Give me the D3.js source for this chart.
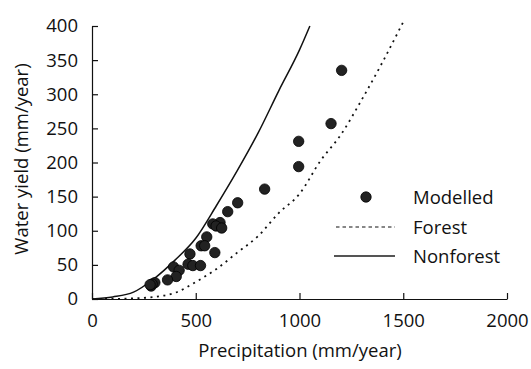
<!DOCTYPE html>
<html>
<head>
<meta charset="utf-8">
<script src="https://cdn.jsdelivr.net/npm/d3@7"></script>
<style>
  body { margin: 0; background: #fff; }
  svg text { font-family: "Open Sans", sans-serif; fill: #111; }
</style>
</head>
<body>
<div id="chart"></div>
<script>

// modelled points: precipitation, water yield
var modelledP = [1203, 1152, 996, 996, 832, 702, 654, 617, 582, 598, 625, 553, 526, 543, 592, 472, 463, 486, 523, 393, 420, 406, 364, 303, 285, 290, 280];
var modelledQ = [335, 257, 231, 194, 161, 141, 128, 112, 110, 107, 104, 91, 78, 78, 68, 66, 51, 49, 49, 47, 42, 33, 28, 24, 19, 22, 21];

// curves
var forestP = [0, 100, 200, 300, 400, 500, 600, 700, 800, 900, 1000, 1100, 1200, 1300, 1400, 1500];
var forestQ = [0, 0, 1, 3, 9, 25, 44, 68, 92, 126, 154, 202, 241, 292, 347, 406];

var nonforestP = [0, 100, 200, 300, 400, 500, 600, 700, 800, 900, 1000, 1050];
var nonforestQ = [0, 3, 10, 30, 57, 89, 137, 188, 243, 305, 365, 400];

var xTicks = [0, 500, 1000, 1500, 2000];
var yTicks = [0, 50, 100, 150, 200, 250, 300, 350, 400];

var legendLabels = ["Modelled", "Forest", "Nonforest"];

var width = 531, height = 369;
var fontSize = 18.5;

var svg = d3.select("#chart").append("svg")
    .attr("width", width)
    .attr("height", height);

var x = d3.scaleLinear().domain([0, 2000]).range([92, 507]);
var y = d3.scaleLinear().domain([0, 400]).range([299, 26]);

// axes
var xAxis = svg.append("g")
    .attr("transform", "translate(0," + y(0) + ")")
    .call(d3.axisBottom(x).tickValues(xTicks).tickFormat(d3.format("d"))
        .tickSizeInner(-6).tickSizeOuter(0).tickPadding(15));

var yAxis = svg.append("g")
    .attr("transform", "translate(" + x(0) + ",0)")
    .call(d3.axisLeft(y).tickValues(yTicks)
        .tickSizeInner(-6).tickSizeOuter(0).tickPadding(14));

svg.selectAll(".domain, .tick line").attr("stroke", "#111").attr("stroke-width", 1.2);
svg.selectAll(".tick text").attr("font-size", fontSize).style("font-family", "'Open Sans', sans-serif").attr("fill", "#111");

// axis titles
svg.append("text")
    .attr("x", 300).attr("y", 357)
    .attr("text-anchor", "middle")
    .attr("font-size", fontSize)
    .text("Precipitation (mm/year)");

svg.append("text")
    .attr("transform", "translate(28,159) rotate(-90)")
    .attr("text-anchor", "middle")
    .attr("font-size", fontSize)
    .text("Water yield (mm/year)");

// curves
var line = d3.line()
    .x(function(d){ return x(d[0]); })
    .y(function(d){ return y(d[1]); })
    .curve(d3.curveMonotoneX);

svg.append("path")
    .datum(d3.zip(forestP, forestQ))
    .attr("d", line)
    .attr("fill", "none")
    .attr("stroke", "#111")
    .attr("stroke-width", 1.8)
    .attr("stroke-dasharray", "2,4.5");

svg.append("path")
    .datum(d3.zip(nonforestP, nonforestQ))
    .attr("d", line)
    .attr("fill", "none")
    .attr("stroke", "#111")
    .attr("stroke-width", 1.5);

// points
svg.append("g").selectAll("circle")
    .data(d3.zip(modelledP, modelledQ))
    .enter().append("circle")
    .attr("cx", function(d){ return x(d[0]); })
    .attr("cy", function(d){ return y(d[1]); })
    .attr("r", 5.2)
    .attr("fill", "#222")
    .attr("stroke", "#000")
    .attr("stroke-width", 0.8);

// legend
var legend = svg.append("g");
var rowY = [197, 227, 256];

legend.append("circle")
    .attr("cx", 366).attr("cy", rowY[0])
    .attr("r", 5.2)
    .attr("fill", "#222").attr("stroke", "#000").attr("stroke-width", 0.8);

legend.append("line")
    .attr("x1", 336).attr("x2", 395)
    .attr("y1", rowY[1]).attr("y2", rowY[1])
    .attr("stroke", "#111").attr("stroke-width", 1.2)
    .attr("stroke-dasharray", "3.5,3");

legend.append("line")
    .attr("x1", 334).attr("x2", 395)
    .attr("y1", rowY[2]).attr("y2", rowY[2])
    .attr("stroke", "#555").attr("stroke-width", 2);

legend.selectAll("text")
    .data(legendLabels)
    .enter().append("text")
    .attr("x", 413)
    .attr("y", function(d, i){ return rowY[i] + 7; })
    .attr("font-size", fontSize)
    .text(function(d){ return d; });

</script>
</body>
</html>
